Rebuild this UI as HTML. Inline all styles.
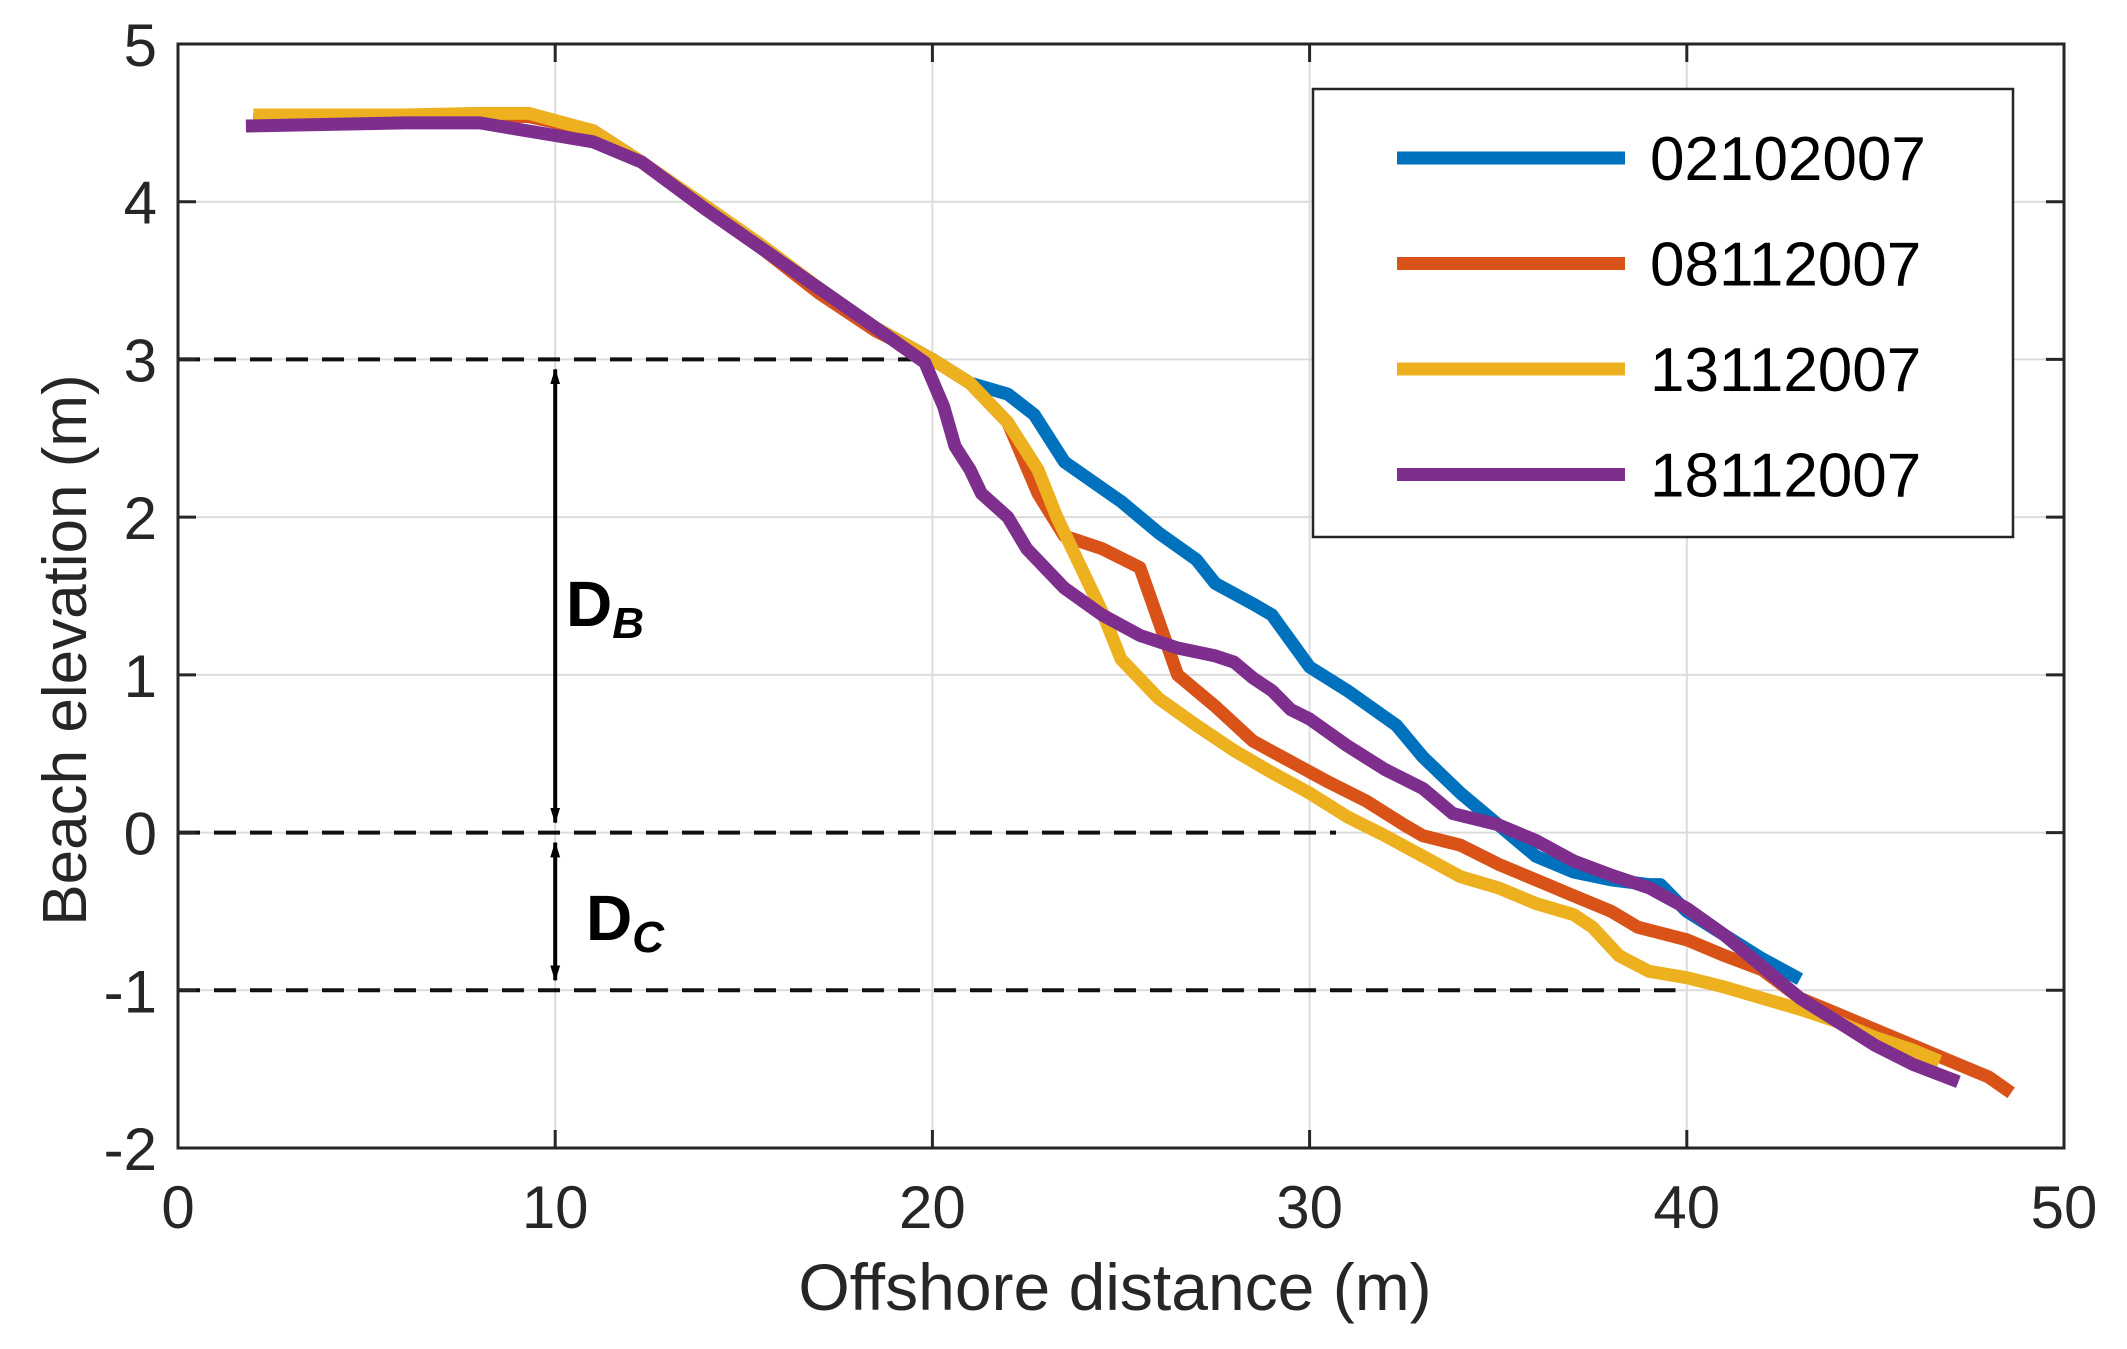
<!DOCTYPE html>
<html><head><meta charset="utf-8"><style>
html,body{margin:0;padding:0;background:#fff}
svg{display:block;font-family:"Liberation Sans",Arial,sans-serif}
</style></head><body>
<svg id="chart" width="2127" height="1349" viewBox="0 0 2127 1349">
<defs>
<marker id="ah" markerWidth="16" markerHeight="26" refX="24" refY="8" orient="auto-start-reverse" markerUnits="userSpaceOnUse" viewBox="0 0 26 16"><path d="M0,0 L26,8 L0,16 z" fill="#000"/></marker>
</defs>
<g id="grid"></g>
<g id="ref"></g>
<g id="series"></g>
<rect x="178" y="44" width="1886" height="1104" fill="none" stroke="#262626" stroke-width="3"/>
<g id="ticks"></g>
<text x="0" y="0" transform="translate(86,650) rotate(-90)" text-anchor="middle" font-size="62" fill="#262626">Beach elevation (m)</text>
<text x="1115" y="1310" text-anchor="middle" font-size="66" fill="#262626">Offshore distance (m)</text>
<g id="legend">
<rect x="1313" y="89" width="700" height="448" fill="#fff" stroke="#262626" stroke-width="2.5"/>
</g>
</svg>
<script>
const xTicks=[0,10,20,30,40,50];
const yTicks=[-2,-1,0,1,2,3,4,5];
const seriesNames=["02102007","08112007","13112007","18112007"];
const seriesColors=["#0072BD","#D95319","#EDB120","#7E2F8E"];
const blueX=[2,4,6,8,9.3,11,12.3,14,15.5,17,18.5,20,21,22,22.7,23.5,25,26,27,27.5,28.5,29,30,31,32.3,33,34,35,36,37,38,39,39.3,40,41,42,43];
const blueY=[4.52,4.53,4.53,4.54,4.54,4.45,4.25,3.95,3.7,3.45,3.2,3.0,2.85,2.78,2.65,2.35,2.1,1.9,1.73,1.58,1.45,1.38,1.05,0.9,0.68,0.48,0.25,0.05,-0.15,-0.25,-0.3,-0.33,-0.33,-0.5,-0.65,-0.8,-0.93];
const orangeX=[2,4,6,8,9.3,11,12.3,14,15.5,17,18.5,20,21,22,22.8,23.5,24.5,25.5,26.5,27.5,28.5,29.5,30.5,31.5,32.5,33,34,35,36,37,38,38.7,40,41,42,43,44,45,46,47,48,48.6];
const orangeY=[4.5,4.52,4.53,4.54,4.54,4.45,4.25,3.95,3.7,3.42,3.18,3.0,2.85,2.6,2.15,1.88,1.8,1.68,1.0,0.8,0.58,0.45,0.32,0.2,0.05,-0.02,-0.08,-0.2,-0.3,-0.4,-0.5,-0.6,-0.68,-0.78,-0.87,-1.05,-1.15,-1.25,-1.35,-1.45,-1.55,-1.65];
const yellowX=[2,4,6,8,9.3,11,12.3,14,15.5,17,18.5,20,21,22,22.8,23.3,24,24.5,25,26,27,28,29,30,31,32,33,34,35,36,37,37.5,38.2,39,40,41,42,43,44,45,46,46.7];
const yellowY=[4.55,4.55,4.55,4.56,4.56,4.45,4.25,3.97,3.72,3.45,3.2,3.0,2.85,2.6,2.3,2.0,1.65,1.4,1.1,0.85,0.68,0.52,0.38,0.25,0.1,-0.02,-0.15,-0.28,-0.35,-0.45,-0.52,-0.6,-0.78,-0.88,-0.92,-0.98,-1.05,-1.12,-1.2,-1.3,-1.38,-1.45];
const purpleX=[1.8,4,6,8,10,11,12.3,14,15.5,17,18.5,19.8,20.3,20.6,21,21.3,22,22.5,23.5,24.5,25.5,26.5,27.5,28,28.5,29,29.5,30,31,32,33,33.8,35,36,37,38,39,40,41,42,43,44,45,46,47.2];
const purpleY=[4.48,4.49,4.5,4.5,4.42,4.38,4.25,3.95,3.7,3.45,3.2,2.98,2.7,2.45,2.3,2.15,2.0,1.8,1.55,1.38,1.25,1.17,1.12,1.08,0.98,0.9,0.78,0.72,0.55,0.4,0.28,0.12,0.05,-0.05,-0.18,-0.27,-0.35,-0.48,-0.65,-0.85,-1.05,-1.2,-1.35,-1.47,-1.58];
const refLevels=[3,0,-1];
const refEnds=[19.8,30.7,39.7];

const NS="http://www.w3.org/2000/svg";
const X0=178,X1=2064,Y0=44,Y1=1148;
const sx=v=>X0+(v-0)/(50-0)*(X1-X0);
const sy=v=>Y1-(v-(-2))/(5-(-2))*(Y1-Y0);
function mk(tag,attrs,parent){const e=document.createElementNS(NS,tag);for(const k in attrs)e.setAttribute(k,attrs[k]);parent.appendChild(e);return e;}
const grid=document.getElementById('grid'),ticks=document.getElementById('ticks');
xTicks.forEach(t=>{
  if(t>0&&t<50){const g=mk('line',{x1:sx(t),x2:sx(t),y1:Y0,y2:Y1,stroke:'#dcdcdc','stroke-width':2},grid);
  
  }
  const tk=mk('line',{x1:sx(t),x2:sx(t),y1:Y1,y2:Y1-18,stroke:'#262626','stroke-width':3},ticks);
  
  
  const tk2=mk('line',{x1:sx(t),x2:sx(t),y1:Y0,y2:Y0+18,stroke:'#262626','stroke-width':3},ticks);
  
  
  const l=mk('text',{x:sx(t),y:1228,'text-anchor':'middle','font-size':60,fill:'#262626'},ticks);l.textContent=t;
  
  
});
yTicks.forEach(t=>{
  if(t>-2&&t<5){const g=mk('line',{x1:X0,x2:X1,y1:sy(t),y2:sy(t),stroke:'#dcdcdc','stroke-width':2},grid);
  
  }
  const tk=mk('line',{x1:X0,x2:X0+18,y1:sy(t),y2:sy(t),stroke:'#262626','stroke-width':3},ticks);
  
  
  const tk2=mk('line',{x1:X1,x2:X1-18,y1:sy(t),y2:sy(t),stroke:'#262626','stroke-width':3},ticks);
  
  
  const l=mk('text',{x:157,y:sy(t)+22,'text-anchor':'end','font-size':60,fill:'#262626'},ticks);l.textContent=t;
  
  
});
const ref=document.getElementById('ref');
refLevels.forEach((v,i)=>{
  const d=mk('line',{x1:X0,x2:sx(refEnds[i]),y1:sy(v),y2:sy(v),stroke:'#111','stroke-width':4,'stroke-dasharray':'22,14'},ref);
  
  
});
const a1=mk('line',{x1:sx(10),x2:sx(10),y1:sy(3)+10,y2:sy(0)-10,stroke:'#000','stroke-width':4,'marker-start':'url(#ah)','marker-end':'url(#ah)'},ref);


const a2=mk('line',{x1:sx(10),x2:sx(10),y1:sy(0)+10,y2:sy(-1)-10,stroke:'#000','stroke-width':4,'marker-start':'url(#ah)','marker-end':'url(#ah)'},ref);


const t1=mk('text',{x:566,y:626,'font-size':64,'font-weight':'bold',fill:'#000'},ref);
t1.innerHTML='D<tspan font-size="44" font-style="italic" dy="12">B</tspan>';


const t2=mk('text',{x:586,y:940,'font-size':64,'font-weight':'bold',fill:'#000'},ref);
t2.innerHTML='D<tspan font-size="44" font-style="italic" dy="12">C</tspan>';


const allX=[blueX,orangeX,yellowX,purpleX],allY=[blueY,orangeY,yellowY,purpleY];
const ser=document.getElementById('series'),leg=document.getElementById('legend');
seriesNames.forEach((n,i)=>{
  const pts=allX[i].map((x,j)=>sx(x).toFixed(1)+','+sy(allY[i][j]).toFixed(1)).join(' ');
  const p=mk('polyline',{points:pts,fill:'none',stroke:seriesColors[i],'stroke-width':13,'stroke-linejoin':'round'},ser);
  
  
  const ly=158+i*105.5;
  const ll=mk('line',{x1:1397,x2:1625,y1:ly,y2:ly,stroke:seriesColors[i],'stroke-width':13},leg);
  
  
  const lt=mk('text',{x:1650,y:ly+22,'font-size':62,fill:'#000'},leg);lt.textContent=n;
  
  
});
</script>
</body></html>
